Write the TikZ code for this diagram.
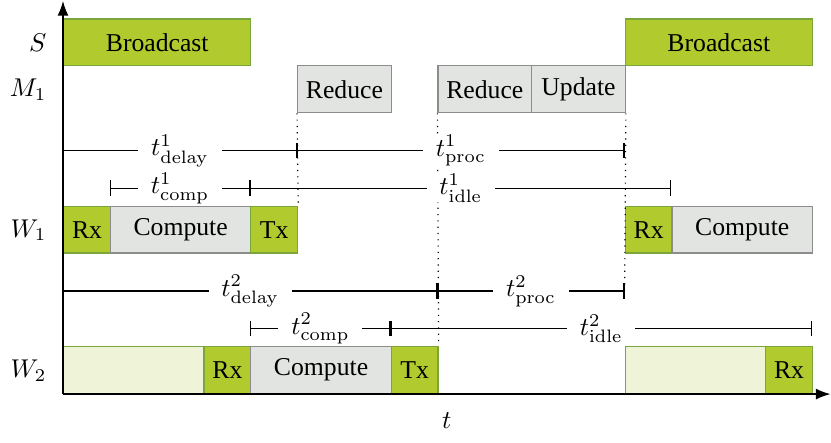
\documentclass[tikz,border=0pt]{standalone}
\usepackage[no-math]{fontspec}
\setmainfont{Liberation Serif}
\usepackage{xcolor}
\usetikzlibrary{arrows.meta}
\definecolor{grnfill}{HTML}{B1CA2D}
\definecolor{grnline}{HTML}{79A53A}
\definecolor{palefill}{HTML}{EFF4D8}
\definecolor{grayfill}{HTML}{E2E4E2}
\definecolor{grayline}{HTML}{8C8C8C}
\newcommand{\slotw}{0.64cm}
\newcommand{\tper}[2]{$t^{#1}_{\mathrm{#2}}$}

\begin{document}
\begin{tikzpicture}[x=\slotw,y=\slotw,>=Latex,
blk/.style={draw,line width=0.5pt,minimum height=\slotw,inner sep=0pt,anchor=south west},
w/.style={minimum width=#1*\slotw},
act/.style={blk,fill=grnfill,draw=grnline},
proc/.style={blk,fill=grayfill,draw=grayline},
wait/.style={blk,fill=palefill,draw=grnline},
span/.style={{Bar[width=6pt]}-{Bar[width=6pt]},line width=0.5pt},
lbl/.style={fill=white,inner xsep=5pt,inner ysep=0pt},
guide/.style={dotted,line width=0.45pt},
rowlbl/.style={anchor=east}]
\useasboundingbox (-1.346,-1.026) rectangle (16.41,8.42);

% server and master
\node[act,w=4] (bc1) at (0,7) {Broadcast};
\node[act,w=4] (bc2) at (12,7) {Broadcast};
\node[proc,w=2] (red1) at (5,6) {Reduce};
\node[proc,w=2] (red2) at (8,6) {Reduce};
\node[proc,w=2] (upd) at (10,6) {Update};

% span end points
\coordinate (s1a) at (0,5.2);
\coordinate (s1b) at (5,5.2);
\coordinate (s1c) at (12,5.2);
\coordinate (c1a) at (1,4.4);
\coordinate (c1b) at (4,4.4);
\coordinate (c1c) at (13,4.4);
\coordinate (s2a) at (0,2.2);
\coordinate (s2b) at (8,2.2);
\coordinate (s2c) at (12,2.2);
\coordinate (c2a) at (4,1.4);
\coordinate (c2b) at (7,1.4);
\coordinate (c2c) at (16,1.4);

% worker 1
\node[act,w=1] (rx11) at (0,3) {Rx};
\node[proc,w=3] (cp11) at (1,3) {Compute};
\node[act,w=1] (tx11) at (4,3) {Tx};
\node[act,w=1] (rx12) at (12,3) {Rx};
\node[proc,w=3] (cp12) at (13,3) {Compute};

% worker 2
\node[wait,w=3] (wt21) at (0,0) {};
\node[act,w=1] (rx21) at (3,0) {Rx};
\node[proc,w=3] (cp21) at (4,0) {Compute};
\node[act,w=1] (tx21) at (7,0) {Tx};
\node[wait,w=3] (wt22) at (12,0) {};
\node[act,w=1] (rx22) at (15,0) {Rx};

% guides
\draw[guide] (red1.south west) -- (tx11.north east);
\draw[guide] (red2.south west) -- (tx21.north east);
\draw[guide] (upd.south east) -- (s2c);

% periods
\draw[span] (s1a) -- node[lbl]{\tper{1}{delay}} (s1b);
\draw[span] (s1b) -- node[lbl]{\tper{1}{proc}} (s1c);
\draw[span] (c1a) -- node[lbl]{\tper{1}{comp}} (c1b);
\draw[span] (c1b) -- node[lbl]{\tper{1}{idle}} (c1c);
\draw[span] (s2a) -- node[lbl]{\tper{2}{delay}} (s2b);
\draw[span] (s2b) -- node[lbl]{\tper{2}{proc}} (s2c);
\draw[span] (c2a) -- node[lbl]{\tper{2}{comp}} (c2b);
\draw[span] (c2b) -- node[lbl]{\tper{2}{idle}} (c2c);

% axes
\coordinate (o) at (0,0);
\coordinate (ytop) at (0,8.4);
\coordinate (xend) at (16.4,0);
\draw[->,line width=0.6pt] (o) -- (ytop);
\draw[->,line width=0.6pt] (o) -- (xend);
\node (tl) at (8.2,-0.56) {$t$};

\node[rowlbl] (lS) at (-0.16,7.5) {$S$};
\node[rowlbl] (lM) at (-0.16,6.5) {$M_1$};
\node[rowlbl] (lW1) at (-0.16,3.5) {$W_1$};
\node[rowlbl] (lW2) at (-0.16,0.5) {$W_2$};
\end{tikzpicture}
\end{document}
